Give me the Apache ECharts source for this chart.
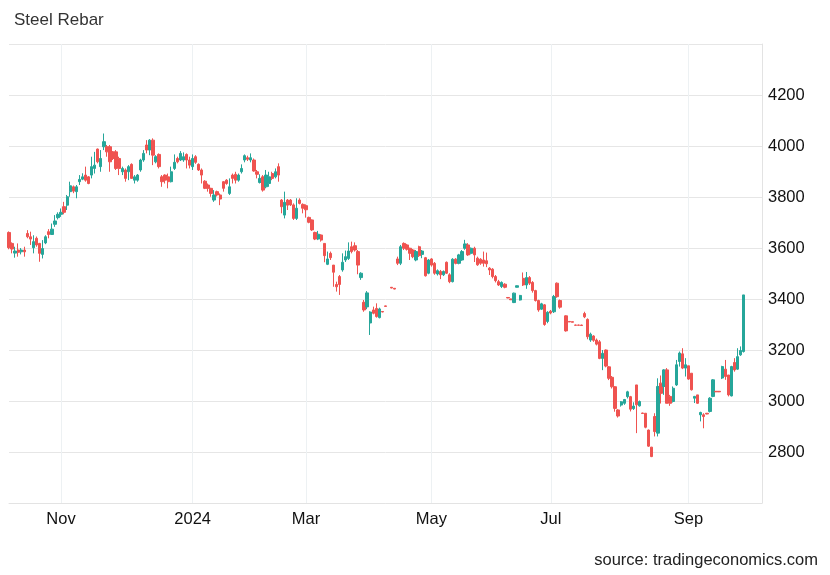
<!DOCTYPE html>
<html>
<head>
<meta charset="utf-8">
<script src="https://cdn.jsdelivr.net/npm/echarts@6/dist/echarts.min.js"></script>
<style>
html,body{margin:0;padding:0;background:#fff;}
#chart{width:830px;height:575px;}
</style>
</head>
<body>
<div id="chart"></div>
<script>
// Trading days (SHFE calendar)
const categories = [
'2023-10-09','2023-10-10','2023-10-11','2023-10-12','2023-10-13','2023-10-16','2023-10-17','2023-10-18','2023-10-19','2023-10-20','2023-10-23','2023-10-24','2023-10-25','2023-10-26','2023-10-27','2023-10-30','2023-10-31',
'2023-11-01','2023-11-02','2023-11-03','2023-11-06','2023-11-07','2023-11-08','2023-11-09','2023-11-10','2023-11-13','2023-11-14','2023-11-15','2023-11-16','2023-11-17','2023-11-20','2023-11-21','2023-11-22','2023-11-23','2023-11-24','2023-11-27','2023-11-28','2023-11-29','2023-11-30',
'2023-12-01','2023-12-04','2023-12-05','2023-12-06','2023-12-07','2023-12-08','2023-12-11','2023-12-12','2023-12-13','2023-12-14','2023-12-15','2023-12-18','2023-12-19','2023-12-20','2023-12-21','2023-12-22','2023-12-25','2023-12-26','2023-12-27','2023-12-28','2023-12-29',
'2024-01-02','2024-01-03','2024-01-04','2024-01-05','2024-01-08','2024-01-09','2024-01-10','2024-01-11','2024-01-12','2024-01-15','2024-01-16','2024-01-17','2024-01-18','2024-01-19','2024-01-22','2024-01-23','2024-01-24','2024-01-25','2024-01-26','2024-01-29','2024-01-30','2024-01-31',
'2024-02-01','2024-02-02','2024-02-05','2024-02-06','2024-02-07','2024-02-08','2024-02-19','2024-02-20','2024-02-21','2024-02-22','2024-02-23','2024-02-26','2024-02-27','2024-02-28','2024-02-29',
'2024-03-01','2024-03-04','2024-03-05','2024-03-06','2024-03-07','2024-03-08','2024-03-11','2024-03-12','2024-03-13','2024-03-14','2024-03-15','2024-03-18','2024-03-19','2024-03-20','2024-03-21','2024-03-22','2024-03-25','2024-03-26','2024-03-27','2024-03-28','2024-03-29',
'2024-04-01','2024-04-02','2024-04-03','2024-04-08','2024-04-09','2024-04-10','2024-04-11','2024-04-12','2024-04-15','2024-04-16','2024-04-17','2024-04-18','2024-04-19','2024-04-22','2024-04-23','2024-04-24','2024-04-25','2024-04-26','2024-04-29','2024-04-30',
'2024-05-06','2024-05-07','2024-05-08','2024-05-09','2024-05-10','2024-05-13','2024-05-14','2024-05-15','2024-05-16','2024-05-17','2024-05-20','2024-05-21','2024-05-22','2024-05-23','2024-05-24','2024-05-27','2024-05-28','2024-05-29','2024-05-30','2024-05-31',
'2024-06-03','2024-06-04','2024-06-05','2024-06-06','2024-06-07','2024-06-11','2024-06-12','2024-06-13','2024-06-14','2024-06-17','2024-06-18','2024-06-19','2024-06-20','2024-06-21','2024-06-24','2024-06-25','2024-06-26','2024-06-27','2024-06-28',
'2024-07-01','2024-07-02','2024-07-03','2024-07-04','2024-07-05','2024-07-08','2024-07-09','2024-07-10','2024-07-11','2024-07-12','2024-07-15','2024-07-16','2024-07-17','2024-07-18','2024-07-19','2024-07-22','2024-07-23','2024-07-24','2024-07-25','2024-07-26','2024-07-29','2024-07-30','2024-07-31',
'2024-08-01','2024-08-02','2024-08-05','2024-08-06','2024-08-07','2024-08-08','2024-08-09','2024-08-12','2024-08-13','2024-08-14','2024-08-15','2024-08-16','2024-08-19','2024-08-20','2024-08-21','2024-08-22','2024-08-23','2024-08-26','2024-08-27','2024-08-28','2024-08-29','2024-08-30',
'2024-09-02','2024-09-03','2024-09-04','2024-09-05','2024-09-06','2024-09-09','2024-09-10','2024-09-11','2024-09-12','2024-09-13','2024-09-18','2024-09-19','2024-09-20','2024-09-23','2024-09-24','2024-09-25','2024-09-26','2024-09-27','2024-09-30',
'2024-10-08','2024-10-09','2024-10-10','2024-10-11','2024-10-14','2024-10-15'
];

const openValues = [
3661,3618,3580,3592,3585,3592,3657,3644,3601,3638,3618,3575,3620,3664,3653,3693,3719,
3732,3762,3768,3821,3840,3821,3860,3870,3886,3879,3886,3912,3988,3919,3997,3997,3997,3977,3977,3951,3899,3906,
3899,3928,3866,3866,3906,3945,4004,3984,4023,3938,3967,3879,3886,3879,3860,3912,3951,3945,3945,3967,3945,
3919,3958,3928,3906,3862,3847,3834,3788,3821,3808,3860,3866,3814,3886,3889,3866,3899,3945,3954,3945,3945,3899,
3857,3879,3840,3853,3892,3879,3919,3788,3729,3788,3788,3769,3716,3788,3771,
3766,3720,3710,3661,3635,3651,3618,3536,3579,3533,3457,3488,3514,3553,3559,3605,3609,3586,3484,3387,3369,
3306,3357,3363,3327,3351,3373,null,3446,3442,3557,3540,3618,3612,3599,3592,3553,3605,3575,3562,3501,
3557,3540,3498,3508,3495,3544,3495,3468,3556,3540,3553,3599,3612,3579,3599,3560,3556,3553,3550,3521,
3517,3488,3468,3449,3458,3406,3400,3386,3446,3396,3481,3455,3484,3465,3433,3394,3360,3377,3312,
3352,3350,3462,3394,null,3334,3312,3311,3298,3298,3298,3343,3320,3239,3255,3239,3232,3167,3200,3134,3093,3056,2965,
2984,2991,3017,3017,2970,3063,2981,2953,2952,2886,2819,2939,2874,3070,3057,3122,3018,2998,3063,3155,3185,3129,
3138,3109,3011,3024,2946,2946,2952,2959,3018,3038,3038,3090,3125,3102,3020,3151,3125,3181,3194
];
const closeValues = [
3601,3596,3588,3583,3592,3585,3644,3635,3625,3612,3579,3598,3644,3653,3674,3706,3732,
3740,3740,3801,3844,3823,3840,3869,3879,3866,3853,3919,3925,3938,3951,4017,3977,3938,3951,3912,3912,3912,3873,
3919,3873,3879,3886,3945,3971,3984,4023,3964,3958,3919,3860,3866,3860,3899,3936,3938,3971,3958,3945,3925,
3951,3936,3906,3886,3834,3834,3814,3808,3808,3792,3834,3853,3840,3873,3866,3886,3912,3962,3948,3954,3902,3889,
3873,3827,3886,3879,3873,3899,3886,3762,3779,3768,3769,3716,3756,3775,3756,
3750,3701,3671,3635,3654,3631,3570,3557,3562,3505,3448,3457,3544,3566,3588,3586,3592,3533,3501,3357,3424,
3349,3344,3331,3361,3349,3371,null,3443,3439,3540,3605,3599,3595,3579,3566,3586,3570,3588,3491,3553,
3533,3501,3511,3495,3508,3501,3468,3556,3540,3573,3586,3616,3573,3599,3573,3534,3540,3540,3538,3514,
3488,3472,3455,3465,3446,3404,3397,3423,3452,3414,3455,3484,3462,3433,3394,3357,3381,3300,3348,
3345,3410,3409,3368,null,3275,3310,3309,3297,3297,3296,3330,3252,3262,3238,3223,3167,3187,3137,3089,3056,2971,2941,
2997,3006,3036,2968,2980,2985,2998,2951,2897,2823,2782,2880,3057,3030,3122,2991,2991,3050,3142,3188,3129,3142,
3086,3044,3018,2991,2955,2939,2949,3011,3083,3036,3036,3135,3096,3024,3135,3122,3174,3198,3416
];
const lowValues = [
3595,3579,3562,3566,3575,3566,3638,3612,3579,3605,3546,3559,3615,3638,3651,3683,3712,
3722,3732,3749,3801,3815,3795,3847,3866,3860,3850,3873,3892,3932,3899,3984,3958,3899,3945,3906,3886,3886,3860,
3866,3873,3853,3860,3899,3938,3971,3964,3925,3932,3912,3840,3853,3834,3857,3906,3932,3941,3938,3912,3912,
3906,3930,3902,3853,3831,3821,3801,3781,3802,3768,3821,3848,3808,3853,3853,3860,3892,3936,3941,3936,3899,3873,
3853,3821,3834,3840,3866,3873,3860,3736,3716,3749,3765,3710,3710,3771,3736,
3719,3697,3667,3631,3631,3625,3544,3533,3553,3448,3429,3416,3507,3545,3553,3579,3586,3497,3475,3350,3360,
3259,3340,3327,3324,3348,3370,null,3442,3438,3533,3533,3592,3590,3553,3560,3548,3565,3560,3488,3497,
3527,3495,3492,3478,3490,3498,3462,3465,3536,3536,3550,3593,3569,3575,3545,3530,3534,3527,3525,3494,
3481,3465,3451,3443,3442,3403,3396,3384,3445,3394,3451,3440,3455,3425,3390,3350,3357,3295,3305,
3340,3345,3405,3362,null,3272,3309,3308,3296,3296,3295,3325,3242,3232,3232,3218,3164,3121,3132,3082,3049,2958,2935,
2978,2985,3010,2959,2965,2874,2978,2950,2893,2820,2780,2861,2861,2990,3024,2991,2981,2994,3059,3135,3125,3096,
3083,3041,2992,2989,2920,2893,2948,2955,3015,3035,3035,3086,3083,3018,3018,3115,3122,3177,3190
];
const highValues = [
3665,3622,3605,3618,3600,3605,3670,3664,3650,3645,3620,3631,3650,3674,3696,3729,3740,
3755,3781,3808,3860,3845,3847,3886,3893,3919,3882,3958,3977,3990,3984,4049,4004,4004,3980,3984,3958,3919,3912,
3925,3932,3886,3890,3950,3984,4023,4027,4030,3964,3971,3886,3889,3892,3919,3967,3958,3980,3975,3971,3958,
3967,3964,3932,3912,3866,3853,3836,3827,3825,3814,3862,3870,3873,3892,3899,3892,3928,3967,3962,3971,3951,3906,
3889,3886,3906,3899,3899,3912,3932,3792,3821,3792,3792,3775,3795,3795,3775,
3771,3723,3712,3664,3667,3654,3618,3586,3586,3533,3468,3494,3579,3590,3622,3625,3622,3592,3505,3396,3431,
3352,3370,3383,3366,3352,3374,null,3447,3443,3566,3612,3622,3616,3601,3596,3592,3609,3592,3565,3557,
3560,3545,3516,3514,3512,3547,3501,3560,3560,3577,3592,3632,3619,3602,3605,3566,3560,3586,3582,3525,
3521,3494,3475,3469,3462,3407,3401,3425,3453,3416,3504,3506,3490,3470,3436,3397,3385,3380,3352,
3357,3416,3465,3398,null,3336,3313,3312,3299,3299,3299,3350,3324,3268,3258,3245,3239,3200,3202,3137,3098,3058,2968,
3000,3008,3040,3020,2995,3063,3002,2954,2953,2888,2820,2952,3089,3100,3125,3129,3024,3057,3161,3194,3207,3168,
3138,3109,3020,3024,2958,2952,2953,3015,3086,3039,3039,3138,3161,3102,3138,3168,3207,3214,3416
];

const tickDates = ['2023-11-01','2024-01-02','2024-03-01','2024-05-06','2024-07-01','2024-09-02'];
const tickLabels = ['Nov','2024','Mar','May','Jul','Sep'];
const yTicks = [2800,3000,3200,3400,3600,3800,4000,4200];

const candleData = categories.map((d, i) =>
  (i < openValues.length && openValues[i] != null)
    ? [openValues[i], closeValues[i], lowValues[i], highValues[i]]
    : '-'
);

const isTick = (idx, val) => tickDates.indexOf(val) >= 0;
const FONT = 'Arial, "Liberation Sans", sans-serif';

const chart = echarts.init(document.getElementById('chart'), null, {renderer: 'canvas'});
chart.setOption({
  animation: false,
  backgroundColor: '#ffffff',
  textStyle: {fontFamily: FONT},
  title: {
    text: 'Steel Rebar',
    left: 9, top: 7,
    textStyle: {fontSize: 17, fontWeight: 'normal', color: '#333', fontFamily: FONT}
  },
  graphic: [{
    type: 'text', right: 12, top: 552,
    style: {text: 'source: tradingeconomics.com', fontSize: 16.5, fill: '#222', fontFamily: FONT}
  }],
  grid: {left: 9, right: 68, top: 44, bottom: 72, containLabel: false},
  xAxis: {
    type: 'category',
    data: categories,
    boundaryGap: false,
    axisLine: {show: true, lineStyle: {color: '#e3e3e3'}},
    axisTick: {show: false, interval: isTick},
    axisLabel: {
      interval: isTick,
      formatter: (v) => tickLabels[tickDates.indexOf(v)],
      fontSize: 16.5, color: '#111', margin: 8, fontFamily: FONT
    },
    splitLine: {show: true, interval: isTick, lineStyle: {color: '#edf1f3', width: 1}}
  },
  yAxis: {
    type: 'value',
    position: 'right',
    min: 2600, max: 4400, interval: 200,
    axisLine: {show: true, lineStyle: {color: '#e3e3e3'}},
    axisTick: {show: false},
    axisLabel: {
      showMinLabel: false, showMaxLabel: false,
      fontSize: 16.5, color: '#111', margin: 6, fontFamily: FONT,
      formatter: (v) => (yTicks.indexOf(v) >= 0 ? String(v) : '')
    },
    splitLine: {show: true, lineStyle: {color: '#e6e6e6', width: 1}}
  },
  series: [{
    type: 'candlestick',
    data: candleData,
    clip: false,
    barWidth: 2.8,
    itemStyle: {
      color: '#26a69a', color0: '#ef5350',
      borderColor: '#26a69a', borderColor0: '#ef5350',
      borderWidth: 1
    }
  }]
});
</script>
</body>
</html>
